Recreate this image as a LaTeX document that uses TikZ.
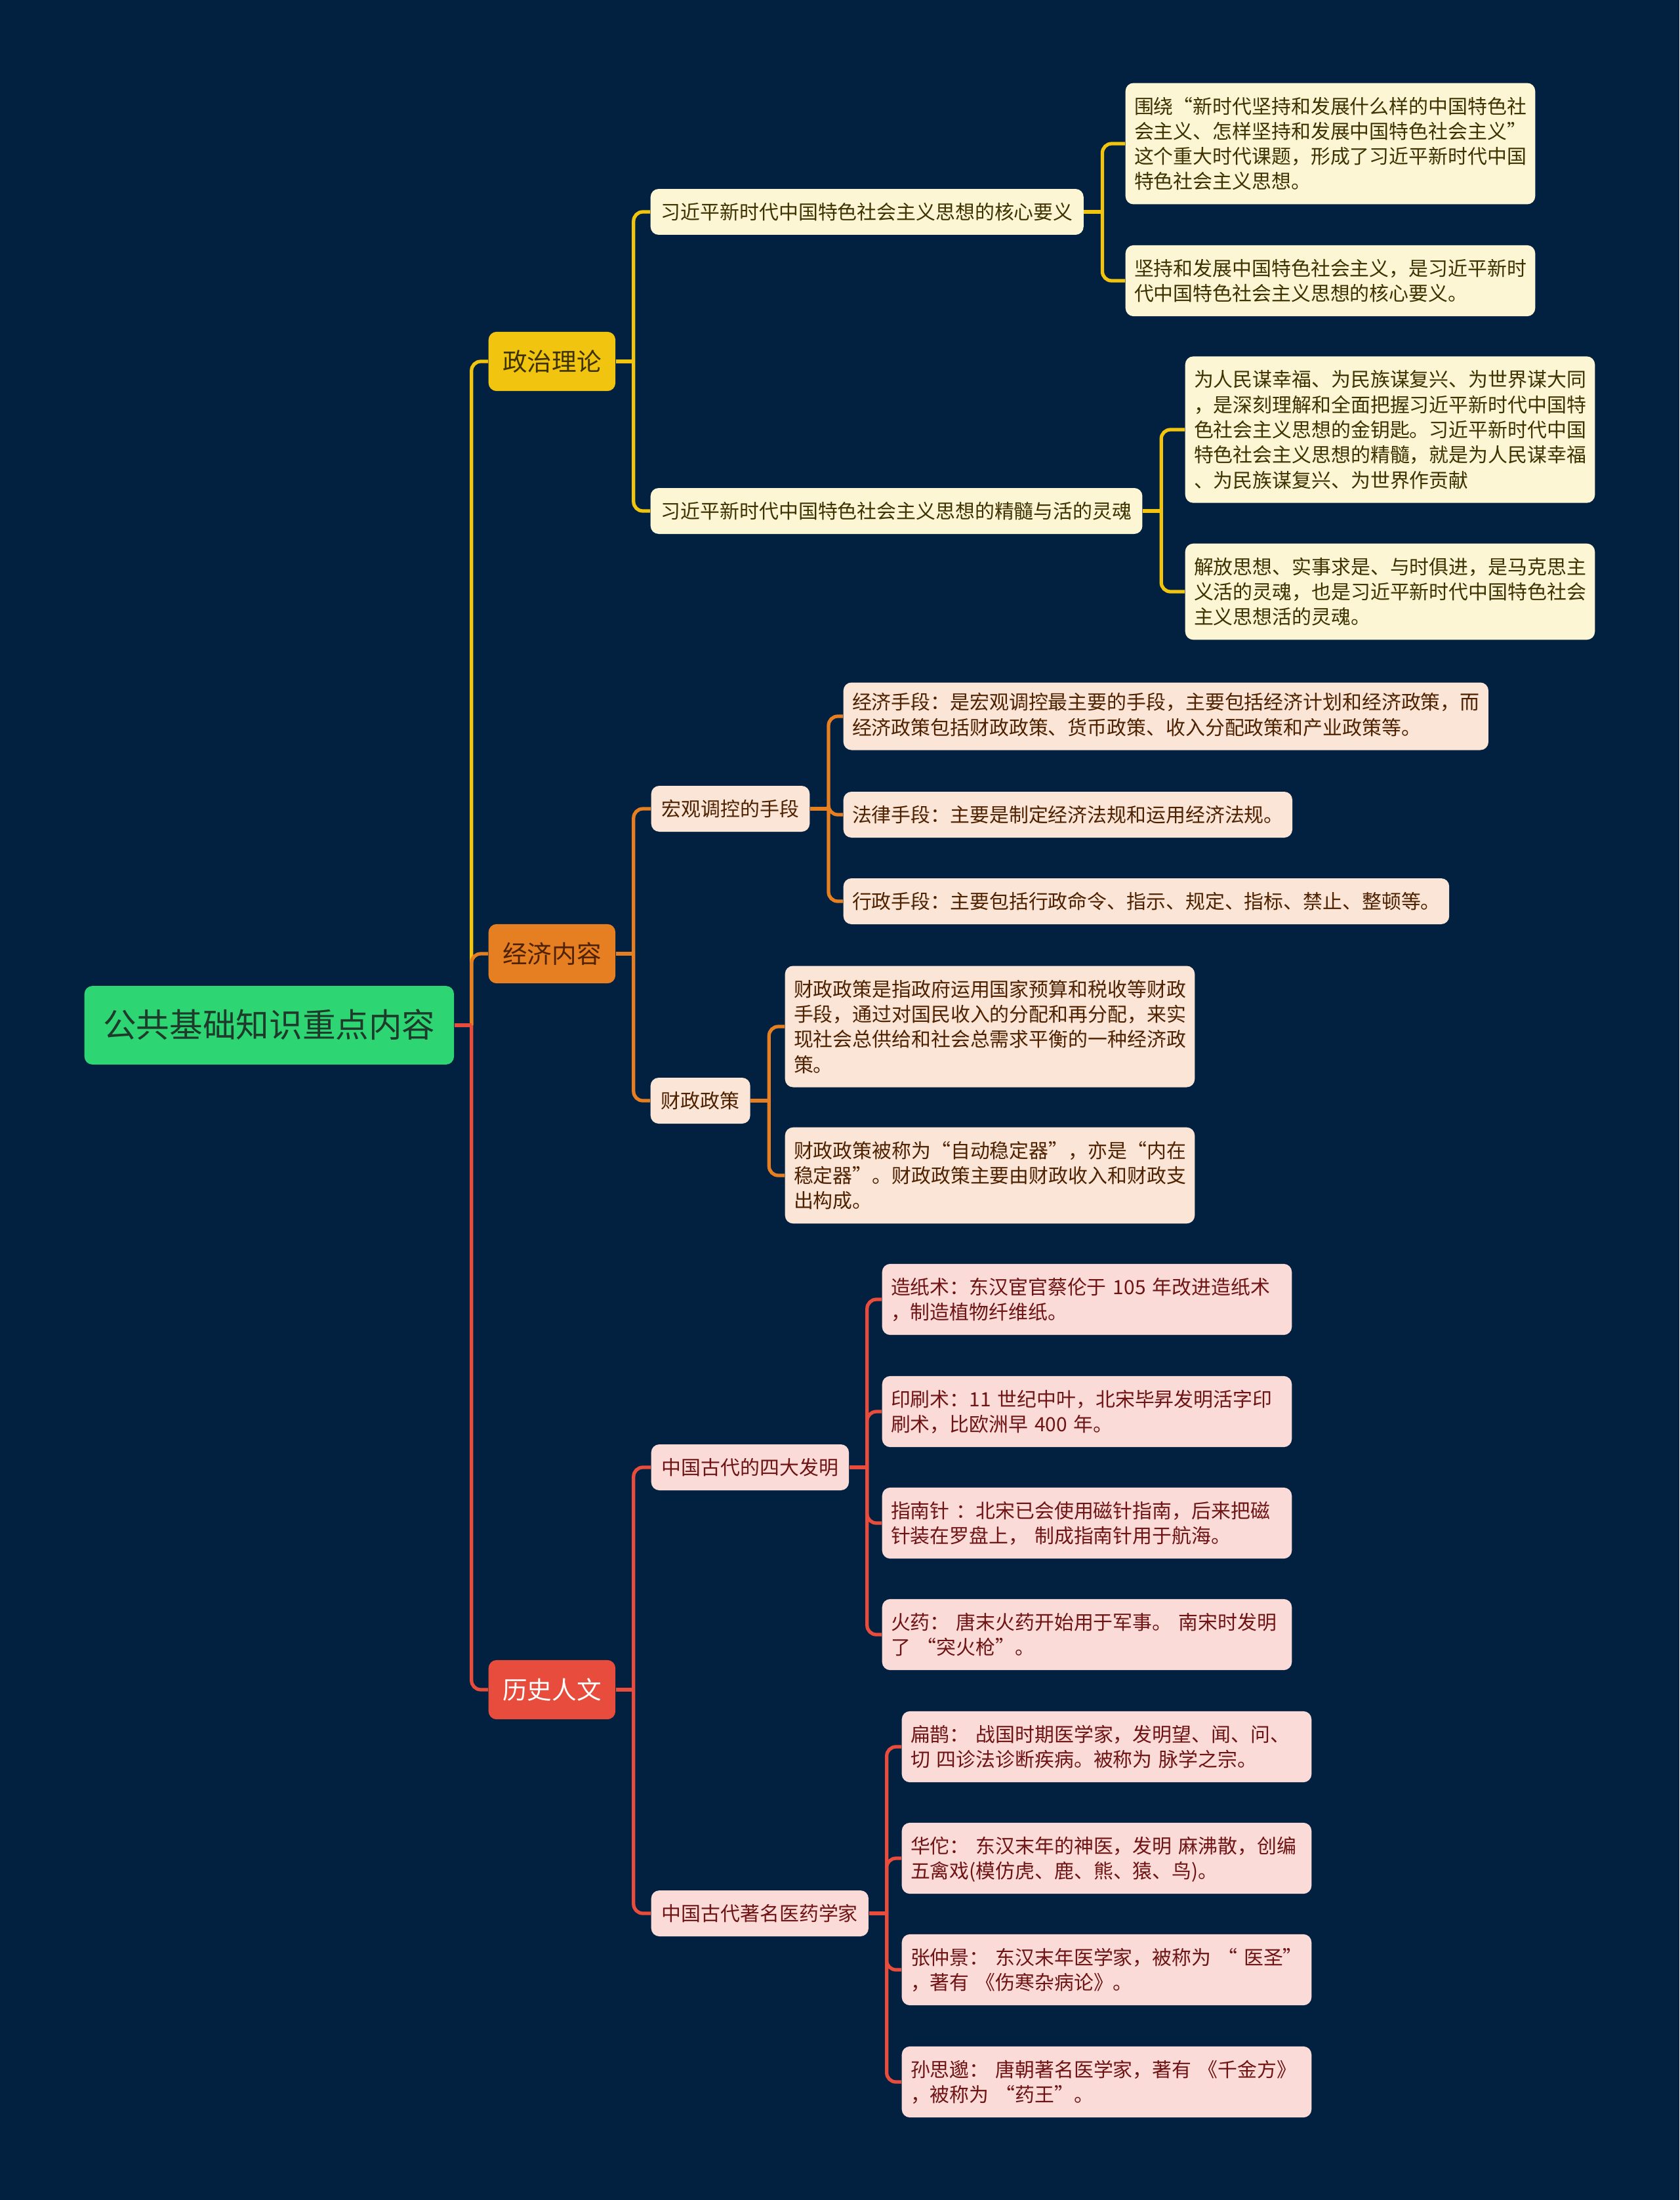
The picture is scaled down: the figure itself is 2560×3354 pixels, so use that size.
\documentclass[tikz,border=0pt]{standalone}
\usepackage{fontspec}
\setmainfont{Noto Sans CJK SC}
\definecolor{navy}{HTML}{02203F}
\definecolor{rootgreen}{HTML}{2ED573}
\definecolor{roottext}{HTML}{1E3A2A}
\definecolor{zzyellow}{HTML}{F1C40F}
\definecolor{jjorange}{HTML}{E67E22}
\definecolor{lsred}{HTML}{E74C3C}
\definecolor{yfill}{HTML}{FDF6D5}
\definecolor{ytext}{HTML}{3D3200}
\definecolor{ofill}{HTML}{FBE5D6}
\definecolor{otext}{HTML}{4E2100}
\definecolor{rfill}{HTML}{FADBD8}
\definecolor{rtext}{HTML}{6E1414}
\newcommand\nodestrut{\rule[-.2\baselineskip]{0pt}{\baselineskip}}

\begin{document}
\begin{tikzpicture}[x=0.01cm, y=-0.01cm,
  every node/.style={anchor=west, rounded corners=3.5pt,
    execute at begin node=\nodestrut, execute at end node=\nodestrut},
  rootbox/.style={fill=rootgreen, text=roottext, font=\fontsize{14.4pt}{17.3pt}\selectfont,
    inner xsep=8.1pt, inner ysep=8.4pt},
  branch/.style={font=\fontsize{10.7pt}{13.7pt}\selectfont, inner xsep=6.1pt, inner ysep=6pt},
  topic/.style={font=\fontsize{8.5pt}{10.9pt}\selectfont, inner xsep=4.6pt, inner ysep=4.5pt},
  leaf/.style={topic, align=left, inner xsep=3.8pt},
  leafbox/.style={leaf, text width=170pt},
  yel/.style={fill=yfill, text=ytext},
  org/.style={fill=ofill, text=otext},
  rd/.style={fill=rfill, text=rtext},
  link/.style={draw=#1, line width=1.5pt, rounded corners=4pt}]

  \fill[navy] (0,0) rectangle (2560,3354);
  \useasboundingbox (0,0) rectangle (2560,3354);

  % root and main branches
  \node[rootbox] (root) at (128,1563) {公共基础知识重点内容};
  \node[branch, fill=zzyellow, text=ytext] (zz) at (744,551) {政治理论};
  \node[branch, fill=jjorange, text=otext] (jj) at (744,1454) {经济内容};
  \node[branch, fill=lsred, text=white] (ls) at (744,2576) {历史人文};

  % 政治理论
  \node[topic, yel] (hx) at (991,323) {习近平新时代中国特色社会主义思想的核心要义};
  \node[topic, yel] (jh) at (991,779) {习近平新时代中国特色社会主义思想的精髓与活的灵魂};
  \node[leafbox, yel] (hx1) at (1715,219) {围绕“新时代坚持和发展什么样的中国特色社\\会主义、怎样坚持和发展中国特色社会主义”\\这个重大时代课题，形成了习近平新时代中国\\特色社会主义思想。};
  \node[leafbox, yel] (hx2) at (1715,428) {坚持和发展中国特色社会主义，是习近平新时\\代中国特色社会主义思想的核心要义。};
  \node[leafbox, yel] (jh1) at (1806,655) {为人民谋幸福、为民族谋复兴、为世界谋大同\\，是深刻理解和全面把握习近平新时代中国特\\色社会主义思想的金钥匙。习近平新时代中国\\特色社会主义思想的精髓，就是为人民谋幸福\\、为民族谋复兴、为世界作贡献};
  \node[leafbox, yel] (jh2) at (1806,902) {解放思想、实事求是、与时俱进，是马克思主\\义活的灵魂，也是习近平新时代中国特色社会\\主义思想活的灵魂。};

  % 经济内容
  \node[topic, org] (hg) at (992,1233) {宏观调控的手段};
  \node[topic, org] (cz) at (991,1678) {财政政策};
  \node[leaf, org] (hg1) at (1285,1092) {经济手段：是宏观调控最主要的手段，主要包括经济计划和经济政策，而\\经济政策包括财政政策、货币政策、收入分配政策和产业政策等。};
  \node[leaf, org] (hg2) at (1285,1242) {法律手段：主要是制定经济法规和运用经济法规。};
  \node[leaf, org] (hg3) at (1285,1374) {行政手段：主要包括行政命令、指示、规定、指标、禁止、整顿等。};
  \node[leafbox, org] (cz1) at (1196,1565) {财政政策是指政府运用国家预算和税收等财政\\手段，通过对国民收入的分配和再分配，来实\\现社会总供给和社会总需求平衡的一种经济政\\策。};
  \node[leafbox, org] (cz2) at (1196,1792) {财政政策被称为“自动稳定器”，亦是“内在\\稳定器”。财政政策主要由财政收入和财政支\\出构成。};

  % 历史人文
  \node[topic, rd] (fm) at (992,2237) {中国古代的四大发明};
  \node[topic, rd] (yy) at (992,2917) {中国古代著名医药学家};
  \node[leafbox, rd] (fm1) at (1344,1981) {造纸术：东汉宦官蔡伦于 105 年改进造纸术\\，制造植物纤维纸。};
  \node[leafbox, rd] (fm2) at (1344,2152) {印刷术：11 世纪中叶，北宋毕昇发明活字印\\刷术，比欧洲早 400 年。};
  \node[leafbox, rd] (fm3) at (1344,2322) {指南针 ：北宋已会使用磁针指南，后来把磁\\针装在罗盘上， 制成指南针用于航海。};
  \node[leafbox, rd] (fm4) at (1344,2492) {火药： 唐末火药开始用于军事。 南宋时发明\\了 “突火枪”。};
  \node[leafbox, rd] (yy1) at (1374,2663) {扁鹊： 战国时期医学家，发明望、闻、问、\\切 四诊法诊断疾病。被称为 脉学之宗。};
  \node[leafbox, rd] (yy2) at (1374,2833) {华佗： 东汉末年的神医，发明 麻沸散，创编\\五禽戏(模仿虎、鹿、熊、猿、鸟)。};
  \node[leafbox, rd] (yy3) at (1374,3003) {张仲景： 东汉末年医学家，被称为 “ 医圣”\\，著有 《伤寒杂病论》。};
  \node[leafbox, rd] (yy4) at (1374,3174) {孙思邈： 唐朝著名医学家，著有 《千金方》\\，被称为 “药王”。};

  % connectors
  \coordinate (rootj) at ([xshift=26*0.01cm]root.east);
  \draw[link=zzyellow] (rootj) |- (zz.west);
  \draw[link=jjorange] (rootj) |- (jj.west);
  \draw[link=lsred] (rootj) |- (ls.west);
  \draw[link=lsred] (root.east) -- (rootj);

  \draw[link=zzyellow] (zz.east) -- ++(27,0) coordinate (zzj);
  \draw[link=zzyellow] (zzj) |- (hx.west);
  \draw[link=zzyellow] (zzj) |- (jh.west);
  \draw[link=zzyellow] (hx.east) -- ++(28,0) coordinate (hxj);
  \draw[link=zzyellow] (hxj) |- (hx1.west);
  \draw[link=zzyellow] (hxj) |- (hx2.west);
  \draw[link=zzyellow] (jh.east) -- ++(28,0) coordinate (jhj);
  \draw[link=zzyellow] (jhj) |- (jh1.west);
  \draw[link=zzyellow] (jhj) |- (jh2.west);

  \draw[link=jjorange] (jj.east) -- ++(27,0) coordinate (jjj);
  \draw[link=jjorange] (jjj) |- (hg.west);
  \draw[link=jjorange] (jjj) |- (cz.west);
  \draw[link=jjorange] (hg.east) -- ++(28,0) coordinate (hgj);
  \draw[link=jjorange] (hgj) |- (hg1.west);
  \draw[link=jjorange] (hgj) |- (hg2.west);
  \draw[link=jjorange] (hgj) |- (hg3.west);
  \draw[link=jjorange] (cz.east) -- ++(28,0) coordinate (czj);
  \draw[link=jjorange] (czj) |- (cz1.west);
  \draw[link=jjorange] (czj) |- (cz2.west);

  \draw[link=lsred] (ls.east) -- ++(27,0) coordinate (lsj);
  \draw[link=lsred] (lsj) |- (fm.west);
  \draw[link=lsred] (lsj) |- (yy.west);
  \draw[link=lsred] (fm.east) -- ++(27,0) coordinate (fmj);
  \foreach \n in {1,...,4}
    \draw[link=lsred] (fmj) |- (fm\n.west);
  \draw[link=lsred] (yy.east) -- ++(27,0) coordinate (yyj);
  \foreach \n in {1,...,4}
    \draw[link=lsred] (yyj) |- (yy\n.west);
\end{tikzpicture}
\end{document}
